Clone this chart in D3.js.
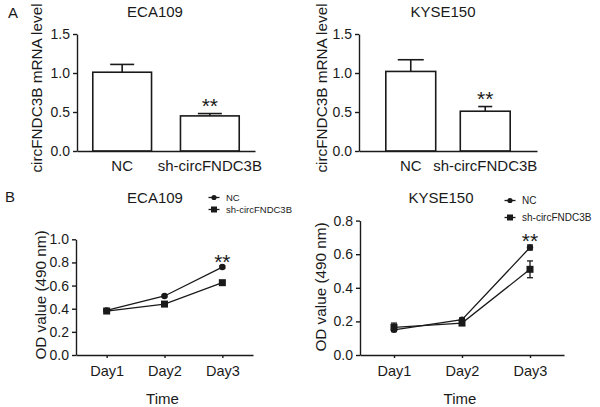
<!DOCTYPE html>
<html><head><meta charset="utf-8">
<script src="https://cdn.jsdelivr.net/npm/d3@7"></script>
<style>
body{margin:0;background:#fff;}
svg{display:block;font-family:"Liberation Sans",Arial,sans-serif;}
</style></head>
<body><svg id="c" width="600" height="407"></svg>
<script>
// ---- data ----
const barCategories = ["NC", "sh-circFNDC3B"];
const ecaBarMean = [1.01, 0.45];
const ecaBarErr = [0.10, 0.03];
const kyseBarMean = [1.02, 0.51];
const kyseBarErr = [0.15, 0.06];
const barTicks = [0, 0.5, 1.0, 1.5];

const days = ["Day1", "Day2", "Day3"];
const seriesNames = ["NC", "sh-circFNDC3B"];
const ecaNC = [0.385, 0.51, 0.76];
const ecaNCErr = [0.005, 0.008, 0.01];
const ecaSh = [0.38, 0.44, 0.625];
const ecaShErr = [0.005, 0.008, 0.01];
const ecaTicks = [0, 0.2, 0.4, 0.6, 0.8, 1.0];
const kyseNC = [0.15, 0.21, 0.64];
const kyseNCErr = [0.01, 0.01, 0.015];
const kyseSh = [0.165, 0.19, 0.51];
const kyseShErr = [0.025, 0.01, 0.05];
const kyseTicks = [0, 0.2, 0.4, 0.6, 0.8];

const svg = d3.select("#c");
const ink = "#1a1a1a";
const fmt = d3.format(".1f");

function styleAxis(g, fs) {
  g.selectAll("path.domain").attr("stroke", ink).attr("stroke-width", 1.4);
  g.selectAll(".tick line").attr("stroke", ink).attr("stroke-width", 1.4);
  g.selectAll(".tick text").attr("fill", ink).attr("font-size", fs)
    .attr("font-family", '"Liberation Sans",Arial,sans-serif');
}

function yLabel(x, y, text) {
  svg.append("text").attr("transform", `translate(${x},${y}) rotate(-90)`)
    .attr("text-anchor", "middle").attr("dominant-baseline", "central")
    .attr("font-size", 15.3).attr("fill", ink).text(text);
}
function title(x, y, text) {
  svg.append("text").attr("x", x).attr("y", y).attr("text-anchor", "middle")
    .attr("dominant-baseline", "central").attr("font-size", 15).attr("fill", ink).text(text);
}
function stars(x, y) {
  svg.append("text").attr("x", x).attr("y", y).attr("text-anchor", "middle")
    .attr("font-size", 21).attr("fill", ink).text("**");
}

// ---- bar panels ----
function barPanel(o) {
  const y = d3.scaleLinear().domain([0, 1.5]).range([o.y0, o.y1]);
  const x = d3.scaleBand().domain(barCategories).range([o.x0, o.x1])
    .paddingInner(o.pin).paddingOuter(o.pout);
  const g = svg.append("g");
  barCategories.forEach((c, i) => {
    const cx = x(c) + x.bandwidth() / 2;
    const top = o.mean[i] + o.err[i];
    g.append("line").attr("x1", cx).attr("x2", cx).attr("y1", y(o.mean[i])).attr("y2", y(top))
      .attr("stroke", ink).attr("stroke-width", 1.6);
    g.append("line").attr("x1", cx - o.cap[i]).attr("x2", cx + o.cap[i]).attr("y1", y(top)).attr("y2", y(top))
      .attr("stroke", ink).attr("stroke-width", 1.6);
  });
  g.selectAll("rect.bar").data(barCategories).enter().append("rect")
    .attr("x", d => x(d)).attr("width", x.bandwidth())
    .attr("y", (d, i) => y(o.mean[i])).attr("height", (d, i) => y(0) - y(o.mean[i]))
    .attr("fill", "#fff").attr("stroke", ink).attr("stroke-width", 1.6);
  const ya = svg.append("g").attr("transform", `translate(${o.x0},0)`)
    .call(d3.axisLeft(y).tickValues(barTicks).tickFormat(fmt).tickSize(4).tickSizeOuter(0).tickPadding(3));
  styleAxis(ya, 14);
  const xa = svg.append("g").attr("transform", `translate(0,${o.y0})`)
    .call(d3.axisBottom(x).tickSize(0).tickSizeOuter(0).tickPadding(9));
  styleAxis(xa, 15);
  xa.selectAll(".tick text").attr("dy", "0.71em");
  yLabel(o.ylx, 88, "circFNDC3B mRNA level");
  title(o.tx, 11, o.title);
  stars(x(barCategories[1]) + x.bandwidth() / 2, y(o.mean[1] + o.err[1]) - 1);
}

barPanel({x0: 77, x1: 255, y0: 151, y1: 34, pin: 0.33, pout: 0.18, cap: [12, 12],
  mean: ecaBarMean, err: ecaBarErr, ylx: 36, tx: 155, title: "ECA109"});
barPanel({x0: 359, x1: 537, y0: 151, y1: 34, pin: 0.33, pout: 0.36, cap: [13, 7],
  mean: kyseBarMean, err: kyseBarErr, ylx: 321, tx: 443, title: "KYSE150"});

// ---- line panels ----
function linePanel(o) {
  const y = d3.scaleLinear().domain([0, o.ymax]).range([o.y0, o.y1]);
  const x = d3.scalePoint().domain(days).range([o.x0, o.x1]).padding(o.pad);
  const g = svg.append("g");
  const series = [{v: o.nc, e: o.ncErr, shape: "circle"}, {v: o.sh, e: o.shErr, shape: "square"}];
  series.forEach(s => {
    const line = d3.line().x((d, i) => x(days[i])).y(d => y(d));
    g.append("path").attr("d", line(s.v)).attr("fill", "none").attr("stroke", ink).attr("stroke-width", 1.3);
    s.v.forEach((v, i) => {
      const cx = x(days[i]);
      g.append("line").attr("x1", cx).attr("x2", cx).attr("y1", y(v - s.e[i])).attr("y2", y(v + s.e[i]))
        .attr("stroke", ink).attr("stroke-width", 1.3);
      [v - s.e[i], v + s.e[i]].forEach(t => g.append("line").attr("x1", cx - 3).attr("x2", cx + 3)
        .attr("y1", y(t)).attr("y2", y(t)).attr("stroke", ink).attr("stroke-width", 1.3));
      if (s.shape === "circle") g.append("circle").attr("cx", cx).attr("cy", y(v)).attr("r", 3.2).attr("fill", ink);
      else g.append("rect").attr("x", cx - 3.5).attr("y", y(v) - 3.5).attr("width", 7).attr("height", 7).attr("fill", ink);
    });
  });
  const ya = svg.append("g").attr("transform", `translate(${o.x0},0)`)
    .call(d3.axisLeft(y).tickValues(o.ticks).tickFormat(fmt).tickSize(4).tickSizeOuter(0).tickPadding(3));
  styleAxis(ya, 14);
  const xa = svg.append("g").attr("transform", `translate(0,${o.y0})`)
    .call(d3.axisBottom(x).tickSize(3).tickSizeOuter(0).tickPadding(8));
  styleAxis(xa, 14.5);
  svg.append("text").attr("x", (o.x0 + o.x1) / 2 - 2).attr("y", 398).attr("text-anchor", "middle")
    .attr("dominant-baseline", "central").attr("font-size", 15).attr("fill", ink).text("Time");
  yLabel(o.ylx, o.yly, "OD value (490 nm)");
  title(o.tx, o.ty, o.title);
  stars(x(days[2]), y(o.nc[2] + o.ncErr[2]) + 3);
  seriesNames.forEach((n, i) => {
    const ly = o.ly + i * o.lstep;
    svg.append("line").attr("x1", o.lx - 5.5).attr("x2", o.lx + 5.5).attr("y1", ly).attr("y2", ly)
      .attr("stroke", ink).attr("stroke-width", 1.3);
    if (i === 0) svg.append("circle").attr("cx", o.lx).attr("cy", ly).attr("r", 2.6).attr("fill", ink);
    else svg.append("rect").attr("x", o.lx - 3).attr("y", ly - 3).attr("width", 6).attr("height", 6).attr("fill", ink);
    svg.append("text").attr("x", o.lx + 12).attr("y", ly).attr("dominant-baseline", "central")
      .attr("font-size", o.lfs).attr("fill", ink).text(n);
  });
}

svg.append("text").attr("x", 8).attr("y", 12).attr("dominant-baseline", "central")
  .attr("font-size", 15).attr("fill", ink).text("A");
svg.append("text").attr("x", 5).attr("y", 196).attr("dominant-baseline", "central")
  .attr("font-size", 15).attr("fill", ink).text("B");

linePanel({x0: 76, x1: 253, y0: 355, y1: 239.3, ymax: 1.0, pad: 0.53, ticks: ecaTicks,
  nc: ecaNC, ncErr: ecaNCErr, sh: ecaSh, shErr: ecaShErr,
  ylx: 40, yly: 295, tx: 155, ty: 197, title: "ECA109", lx: 214, ly: 197.5, lstep: 12, lfs: 9.5});
linePanel({x0: 360, x1: 564, y0: 355, y1: 220.6, ymax: 0.8, pad: 0.5, ticks: kyseTicks,
  nc: kyseNC, ncErr: kyseNCErr, sh: kyseSh, shErr: kyseShErr,
  ylx: 320, yly: 287, tx: 441, ty: 197, title: "KYSE150", lx: 510, ly: 200.5, lstep: 17, lfs: 10});
</script></body></html>
